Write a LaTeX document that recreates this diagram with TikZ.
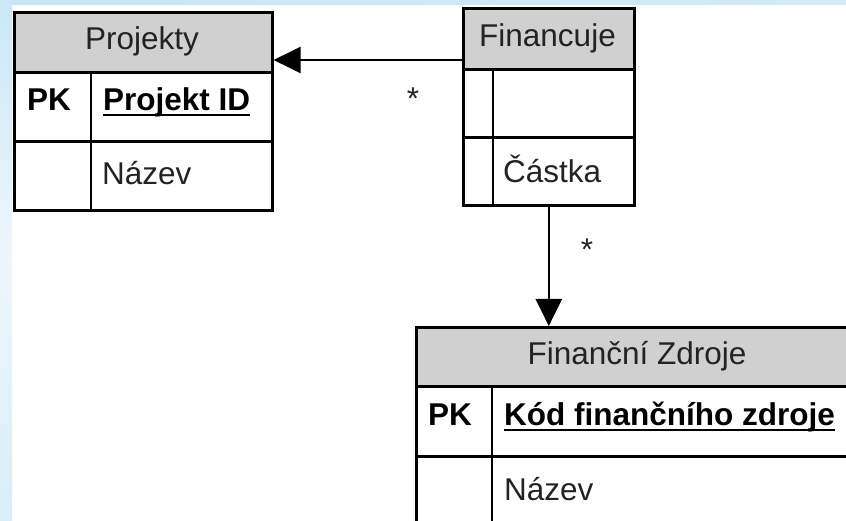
\documentclass[tikz,border=0pt]{standalone}
\usepackage{fontspec}
\setmainfont{Liberation Sans}
\usetikzlibrary{arrows.meta}
\definecolor{hdrgray}{RGB}{208,208,208}
\definecolor{bgblue}{RGB}{198,230,246}
\definecolor{bgpale}{RGB}{238,246,251}
\definecolor{txtdark}{RGB}{35,35,35}
\begin{document}
\begin{tikzpicture}[x=1pt,y=-1pt,
  tbl/.style={draw=black, line width=2.6pt, inner sep=0pt, anchor=north west},
  hdr/.style={tbl, fill=hdrgray},
  lbl/.style={inner sep=0pt, font=\fontsize{31.5}{37}\selectfont, text=txtdark},
  key/.style={lbl, font=\fontsize{31.5}{37}\selectfont\bfseries, text=black},
  star/.style={lbl, anchor=base},
  conn/.style={line width=2.6pt, -{Triangle[length=27pt,width=26pt]}},
  uline/.style={line width=2pt},
  divl/.style={line width=2.6pt}
]
\useasboundingbox (0,0) rectangle (846,521);
\fill[white] (0,0) rectangle (846,521);
% background strips
\shade[left color=bgblue, right color=bgblue!80] (0,0) rectangle (846,5);
\shade[top color=bgblue!90!bgpale, bottom color=bgblue!70!white, middle color=bgpale] (0,0) rectangle (12,521);

\begin{scope}
\clip (0,0) rectangle (846,521);

% ---- Projekty ----
\node[hdr, minimum width=258pt, minimum height=60pt] (projh) at (13,11) {};
\node[tbl, minimum width=258pt, minimum height=69pt] (projr1) at (13,71) {};
\node[tbl, minimum width=258pt, minimum height=69pt] (projr2) at (13,140) {};
\coordinate (pdiv) at (91,0);
\draw[divl] (pdiv |- projr1.north) -- (pdiv |- projr2.south);
\node[lbl, anchor=base] (projt) at (142,50) {Projekty};
\node[key, anchor=base west] (projpk) at (27,111) {PK};
\node[key, anchor=base west] (projid) at (103,111) {Projekt ID};
\draw[uline] ([yshift=-4.5pt]projid.base west) -- ([yshift=-4.5pt]projid.base east);
\node[lbl, anchor=base west] (projnaz) at (102,185) {Název};

% ---- Financuje ----
\node[hdr, minimum width=171pt, minimum height=61pt] (finh) at (462,7) {};
\node[tbl, minimum width=171pt, minimum height=68pt] (finr1) at (462,68) {};
\node[tbl, minimum width=171pt, minimum height=68pt] (finr2) at (462,136) {};
\coordinate (fdiv) at (493,0);
\draw[divl] (fdiv |- finr1.north) -- (fdiv |- finr2.south);
\node[lbl, anchor=base] (fint) at (547.5,47) {Financuje};
\node[lbl, anchor=base west] (fincas) at (503,183) {Částka};

% ---- Finanční Zdroje ----
\node[hdr, minimum width=444pt, minimum height=59pt] (zdh) at (415,326) {};
\node[tbl, minimum width=444pt, minimum height=70pt] (zdr1) at (415,385) {};
\node[tbl, minimum width=444pt, minimum height=85pt] (zdr2) at (415,455) {};
\coordinate (zdiv) at (492,0);
\draw[divl] (zdiv |- zdr1.north) -- (zdiv |- zdr2.south);
\node[lbl, anchor=base] (zdt) at (637,364) {Finanční Zdroje};
\node[key, anchor=base west] (zdpk) at (428,425) {PK};
\node[key, anchor=base west] (zdkod) at (504,425) {Kód finančního zdroje};
\draw[uline] ([yshift=-4.5pt]zdkod.base west) -- ([yshift=-4.5pt]zdkod.base east);
\node[lbl, anchor=base west] (zdnaz) at (504,500) {Název};

% ---- connectors ----
\coordinate (finA) at (462,60);
\draw[conn] (finA) -- (finA -| projh.east);
\draw[conn] (finr2.south) -- (finr2.south |- zdh.north);
\node[star] (s1) at (413,110) {*};
\node[star] (s2) at (587,261) {*};
\end{scope}
\end{tikzpicture}
\end{document}
